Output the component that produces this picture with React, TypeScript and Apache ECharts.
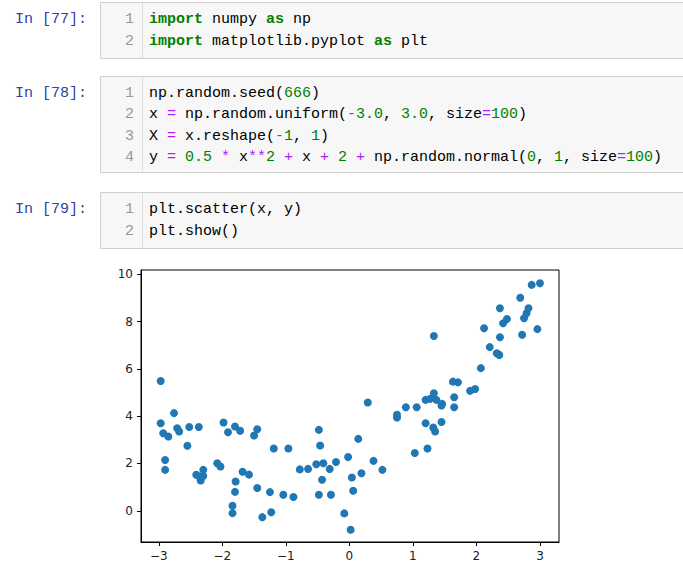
import React, { useEffect, useRef } from "react";
import * as echarts from "echarts";

// ---- data ----
const xs = [
  -2.97, -2.97, -2.76, -2.93, -2.85, -2.71, -2.68, -2.52, -2.37, -2.55,
  -2.90, -2.90, -2.41, -2.30, -2.30, -2.34, -2.36, -2.08, -2.03, -1.98,
  -1.91, -1.80, -1.72, -1.50, -1.45, -1.79, -1.80, -1.84, -1.84, -1.68,
  -1.58, -1.45, -1.37, -1.25, -1.23, -1.19, -0.96, -1.04, -0.88, -0.78,
  -0.65, -0.48, -0.46, -0.52, -0.41, -0.31, -0.21, -0.43, -0.48, -0.29,
  -0.02, 0.14, 0.04, 0.19, 0.06, -0.08, 0.02, 0.29, 0.38, 0.52,
  0.75, 0.75, 0.89, 1.06, 1.03, 1.23, 1.20, 1.32, 1.35, 1.45,
  1.20, 1.27, 1.33, 1.37, 1.45, 1.46, 1.65, 1.65, 1.63, 1.71,
  1.90, 1.98, 2.07, 2.21, 2.32, 2.36, 2.37, 2.12, 2.37, 2.42,
  2.48, 2.69, 2.72, 2.75, 2.79, 2.82, 2.87, 3.00, 2.96, 1.33,
];
const ys = [
  5.49, 3.70, 4.13, 3.28, 3.14, 3.49, 3.35, 3.54, 3.54, 2.75,
  2.15, 1.73, 1.52, 1.73, 1.47, 1.28, 1.45, 2.01, 1.87, 3.73,
  3.32, 3.56, 3.38, 3.18, 3.45, 1.24, 0.80, 0.21, -0.10, 1.65,
  1.53, 0.96, -0.27, 0.79, -0.06, 2.63, 2.63, 0.68, 0.58, 1.75,
  1.77, 3.42, 2.76, 1.97, 2.01, 1.77, 2.06, 1.31, 0.68, 0.68,
  2.27, 3.04, 1.41, 1.59, 0.85, -0.11, -0.80, 4.58, 2.11, 1.73,
  4.06, 3.94, 4.38, 4.38, 2.44, 2.63, 3.70, 3.52, 3.35, 3.75,
  4.69, 4.73, 4.97, 4.69, 4.45, 4.52, 4.80, 4.38, 5.46, 5.43,
  5.07, 5.15, 6.03, 6.92, 6.66, 6.59, 7.34, 7.72, 8.56, 7.93,
  8.11, 9.01, 7.44, 8.14, 8.35, 8.56, 9.55, 9.62, 7.68, 7.39,
];
const xTicks = [-3, -2, -1, 0, 1, 2, 3];
const yTicks = [0, 2, 4, 6, 8, 10];

// ---- notebook cells ----
const prompts = ["In [77]:", "In [78]:", "In [79]:"];
const cell1 = ["import numpy as np", "import matplotlib.pyplot as plt"];
const cell2 = [
  "np.random.seed(666)",
  "x = np.random.uniform(-3.0, 3.0, size=100)",
  "X = x.reshape(-1, 1)",
  "y = 0.5 * x**2 + x + 2 + np.random.normal(0, 1, size=100)",
];
const cell3 = ["plt.scatter(x, y)", "plt.show()"];

const MONO = "'Liberation Mono', 'DejaVu Sans Mono', monospace";
const CODE_FS = 15;

function highlight(s: string): string {
  return s.replace(
    /\b(import|as)\b|(\d+(?:\.\d+)?)|(\*\*|[=*+\-])/g,
    (m: string, kw: string, num: string, op: string) =>
      kw ? `{k|${kw}}` : num ? `{n|${num}}` : `{o|${op}}`
  );
}

const rich = {
  k: { fill: "#008000", fontWeight: "bold", fontSize: CODE_FS, fontFamily: MONO },
  n: { fill: "#008000", fontSize: CODE_FS, fontFamily: MONO },
  o: { fill: "#AA22FF", fontSize: CODE_FS, fontFamily: MONO },
};

function buildCell(lines: string[], prompt: string, top: number, bottom: number, firstY: number, step: number) {
  const els: any[] = [];
  els.push({
    type: "rect",
    shape: { x: 100.5, y: top + 0.5, width: 600, height: bottom - top },
    style: { fill: "#f7f7f7", stroke: "#cfcfcf", lineWidth: 1 },
  });
  els.push({
    type: "line",
    shape: { x1: 142.5, y1: top + 1, x2: 142.5, y2: bottom },
    style: { stroke: "#dddddd", lineWidth: 1 },
  });
  els.push({
    type: "text",
    x: 87,
    y: firstY,
    style: {
      text: prompt,
      fill: "#303F9F",
      fontSize: CODE_FS,
      fontFamily: MONO,
      align: "right",
      verticalAlign: "middle",
    },
  });
  lines.forEach((ln, i) => {
    const y = firstY + i * step;
    els.push({
      type: "text",
      x: 134,
      y,
      style: {
        text: String(i + 1),
        fill: "#999999",
        fontSize: CODE_FS,
        fontFamily: MONO,
        align: "right",
        verticalAlign: "middle",
      },
    });
    els.push({
      type: "text",
      x: 149,
      y,
      style: {
        text: highlight(ln),
        rich,
        fill: "#000000",
        fontSize: CODE_FS,
        fontFamily: MONO,
        align: "left",
        verticalAlign: "middle",
      },
    });
  });
  return els;
}

const fmt = (v: number) => (v < 0 ? "\u2212" + Math.abs(v) : String(v));

export default function App() {
  const ref = useRef<HTMLDivElement>(null);
  useEffect(() => {
    if (!ref.current) return;
    const chart = echarts.init(ref.current, undefined, { renderer: "svg" });
    const graphic = [
      ...buildCell(cell1, prompts[0], 2, 58, 19.5, 21.5),
      ...buildCell(cell2, prompts[1], 76, 172, 93, 21.5),
      ...buildCell(cell3, prompts[2], 192, 248, 209.5, 21.5),
    ];
    chart.setOption({
      animation: false,
      backgroundColor: "#ffffff",
      grid: {
        left: 141,
        top: 270,
        width: 418,
        height: 272,
        show: true,
        borderColor: "#000000",
        borderWidth: 1,
        backgroundColor: "#ffffff",
      },
      xAxis: {
        type: "value",
        min: -3.28,
        max: 3.3,
        splitLine: { show: false },
        axisLine: { show: true, onZero: false, lineStyle: { color: "#000", width: 1 } },
        axisTick: { show: true, length: 4, customValues: xTicks, lineStyle: { color: "#000" } },
        axisLabel: {
          customValues: xTicks,
          formatter: fmt,
          color: "#222",
          fontSize: 12,
          fontFamily: "'DejaVu Sans', sans-serif",
          margin: 8,
        },
      },
      yAxis: {
        type: "value",
        min: -1.32,
        max: 10.18,
        splitLine: { show: false },
        axisLine: { show: true, onZero: false, lineStyle: { color: "#000", width: 1 } },
        axisTick: { show: true, length: 4, customValues: yTicks, lineStyle: { color: "#000" } },
        axisLabel: {
          customValues: yTicks,
          formatter: fmt,
          color: "#222",
          fontSize: 12,
          fontFamily: "'DejaVu Sans', sans-serif",
          margin: 8,
        },
      },
      series: [
        {
          type: "scatter",
          data: xs.map((x, i) => [x, ys[i]]),
          symbol: "circle",
          symbolSize: 8,
          itemStyle: { color: "#1f77b4", opacity: 1 },
        },
      ],
      graphic,
    });
    return () => chart.dispose();
  }, []);
  return (
    <div
      ref={ref}
      style={{ position: "absolute", left: 0, top: 0, width: 683, height: 584 }}
    />
  );
}
